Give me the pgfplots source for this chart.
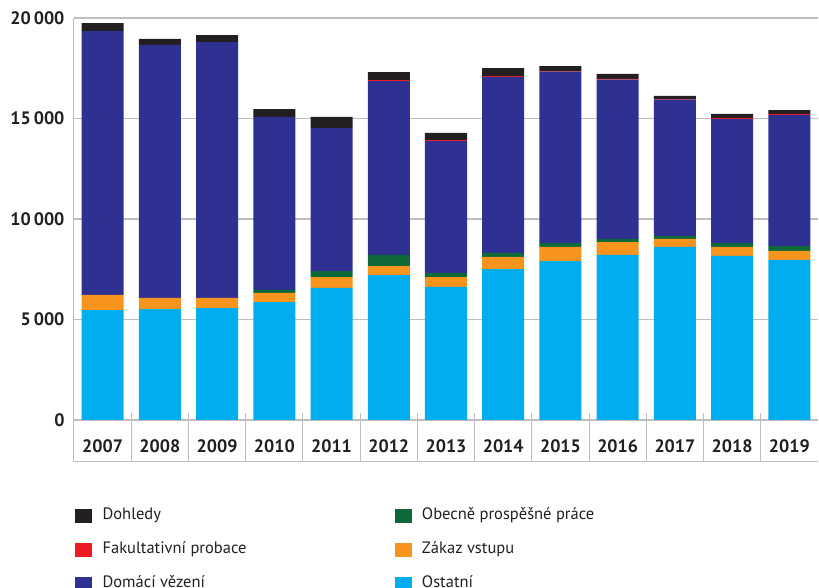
\documentclass[border=0pt]{standalone}
\usepackage{pgfplots}
\pgfplotsset{compat=1.18}
\usepackage{pgfplotstable}
\usepackage{fontspec}
\setmainfont{PT Sans}

\definecolor{cDoh}{HTML}{231F20}
\definecolor{cFak}{HTML}{ED1C24}
\definecolor{cDom}{HTML}{2E3192}
\definecolor{cObe}{HTML}{0E6838}
\definecolor{cZak}{HTML}{F7941D}
\definecolor{cOst}{HTML}{00AEEF}
\definecolor{axgray}{HTML}{BEBEBE}

% year, ostatni, zakaz vstupu, obecne prospesne prace, domaci vezeni, fakultativni probace, dohledy
\pgfplotstableread{
year ost  zak obe dom   fak doh
2007 5470 750 0   13130 0   400
2008 5520 550 0   12590 0   295
2009 5570 500 0   12730 0   350
2010 5870 450 150 8605  0   395
2011 6570 540 300 7120  0   545
2012 7210 450 550 8655  50  395
2013 6620 490 200 6570  50  350
2014 7510 600 200 8755  45  400
2015 7910 700 195 8525  30  250
2016 8210 645 150 7925  40  245
2017 8610 395 150 6780  30  155
2018 8160 450 195 6170  50  200
2019 7960 450 245 6520  50  195
}\datatable

\begin{document}
\begin{tikzpicture}
\useasboundingbox (-74pt,-126pt) rectangle (745pt,462pt);
\begin{axis}[
  at={(0pt,0pt)}, anchor=south west,
  scale only axis, width=744pt, height=444pt,
  xmin=-0.5, xmax=12.5, ymin=-2090, ymax=20000,
  ybar stacked, bar width=0.734,
  axis x line=bottom, axis y line=left,
  axis line style={draw=axgray, line width=1pt, -},
  ytick={0,5000,10000,15000,20000},
  scaled y ticks=false,
  ymajorgrids, grid style={draw=axgray, line width=1.2pt},
  ytick style={draw=none}, ytick align=inside,
  yticklabel style={font=\bfseries\fontsize{18}{21}\selectfont, text=cDoh, xshift=-6pt},
  yticklabel={\pgfmathprintnumber[1000 sep={\,}, assume math mode=true, fixed, precision=0]{\tick}},
  xtick={0.5,1.5,...,11.5}, xticklabels={},
  xtick align=inside, major tick length=49pt,
  xtick style={draw=axgray, line width=1pt},
  extra x ticks={0,1,...,12},
  extra x tick labels={2007,2008,2009,2010,2011,2012,2013,2014,2015,2016,2017,2018,2019},
  extra x tick style={major tick length=0pt,
    xticklabel style={font=\bfseries\fontsize{18}{21}\selectfont, text=cDoh, anchor=base, yshift=9pt}},
  clip=false,
  legend columns=2,
  legend style={at={(axis description cs:0,0)}, anchor=north west, xshift=1pt, yshift=-45pt,
    draw=none, fill=none, inner sep=0pt, row sep=18pt,
    font=\fontsize{16.5}{19}\selectfont, text=cDoh,
    nodes={inner sep=0pt, text height=12pt, text depth=4pt},
    /tikz/column 1/.style={column sep=11pt},
    /tikz/column 2/.style={column sep=0pt},
    /tikz/column 3/.style={column sep=11pt}},
  legend cell align=left,
]
\addplot[fill=cOst, draw=none, forget plot] table[x expr=\coordindex, y=ost] {\datatable};
\addplot[fill=cZak, draw=none, forget plot] table[x expr=\coordindex, y=zak] {\datatable};
\addplot[fill=cObe, draw=none, forget plot] table[x expr=\coordindex, y=obe] {\datatable};
\addplot[fill=cDom, draw=none, forget plot] table[x expr=\coordindex, y=dom] {\datatable};
\addplot[fill=cFak, draw=none, forget plot] table[x expr=\coordindex, y=fak] {\datatable};
\addplot[fill=cDoh, draw=none, forget plot] table[x expr=\coordindex, y=doh] {\datatable};

\addlegendimage{legend image code/.code={\fill[cDoh] (0pt,-6.5pt) rectangle (16pt,6.5pt);}}
\addlegendentry{\makebox[292pt][l]{Dohledy}}
\addlegendimage{legend image code/.code={\fill[cObe] (0pt,-6.5pt) rectangle (16pt,6.5pt);}}
\addlegendentry{Obecně prospěšné práce}
\addlegendimage{legend image code/.code={\fill[cFak] (0pt,-6.5pt) rectangle (16pt,6.5pt);}}
\addlegendentry{Fakultativní probace}
\addlegendimage{legend image code/.code={\fill[cZak] (0pt,-6.5pt) rectangle (16pt,6.5pt);}}
\addlegendentry{Zákaz vstupu}
\addlegendimage{legend image code/.code={\fill[cDom] (0pt,-6.5pt) rectangle (16pt,6.5pt);}}
\addlegendentry{Domácí vězení}
\addlegendimage{legend image code/.code={\fill[cOst] (0pt,-6.5pt) rectangle (16pt,6.5pt);}}
\addlegendentry{Ostatní}
\end{axis}
\end{tikzpicture}
\end{document}
